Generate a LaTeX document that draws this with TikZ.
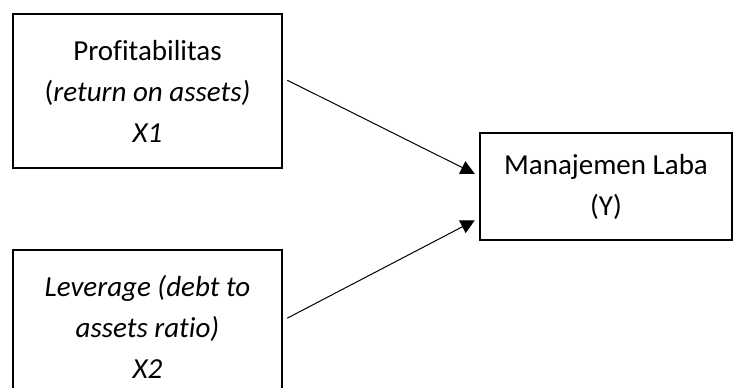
\documentclass[tikz,border=0pt]{standalone}
\usepackage{fontspec}
\setmainfont[Ligatures=NoCommon]{Carlito}
\usetikzlibrary{arrows.meta}

\tikzset{
	varbox/.style={draw, line width=1.6pt, align=center, inner sep=0pt,
		font=\fontsize{29}{41}\selectfont},
	panah/.style={-{Triangle[length=14pt,width=14pt]}, line width=1pt,
		shorten <=5pt, shorten >=5pt}
}

\begin{document}
\begin{tikzpicture}[x=1pt,y=-1pt]
	% Frame
	\useasboundingbox (0,0) rectangle (736,388);
	\clip (0,0) rectangle (736,388);
	
	% Independent variables
	\node[varbox, minimum width=269pt, minimum height=154pt] (prof) at (147.5,91)
		{Profitabilitas\\(\textit{return on assets)}\\\textit{X1}};
	\node[varbox, minimum width=269pt, minimum height=154pt] (lev) at (147.5,327)
		{\textit{Leverage (debt to}\\\textit{assets ratio)}\\\textit{X2}};
	
	% Dependent variable
	\node[varbox, minimum width=252pt, minimum height=107pt] (laba) at (606,186.5)
		{Manajemen Laba\\(Y)};
	
	% Arrows
	\draw[panah] ([yshift=13pt]prof.east) -- ([yshift=10.5pt]laba.west);
	\draw[panah] ([yshift=6.5pt]lev.east) -- ([yshift=-31.5pt]laba.west);
\end{tikzpicture}
\end{document}
